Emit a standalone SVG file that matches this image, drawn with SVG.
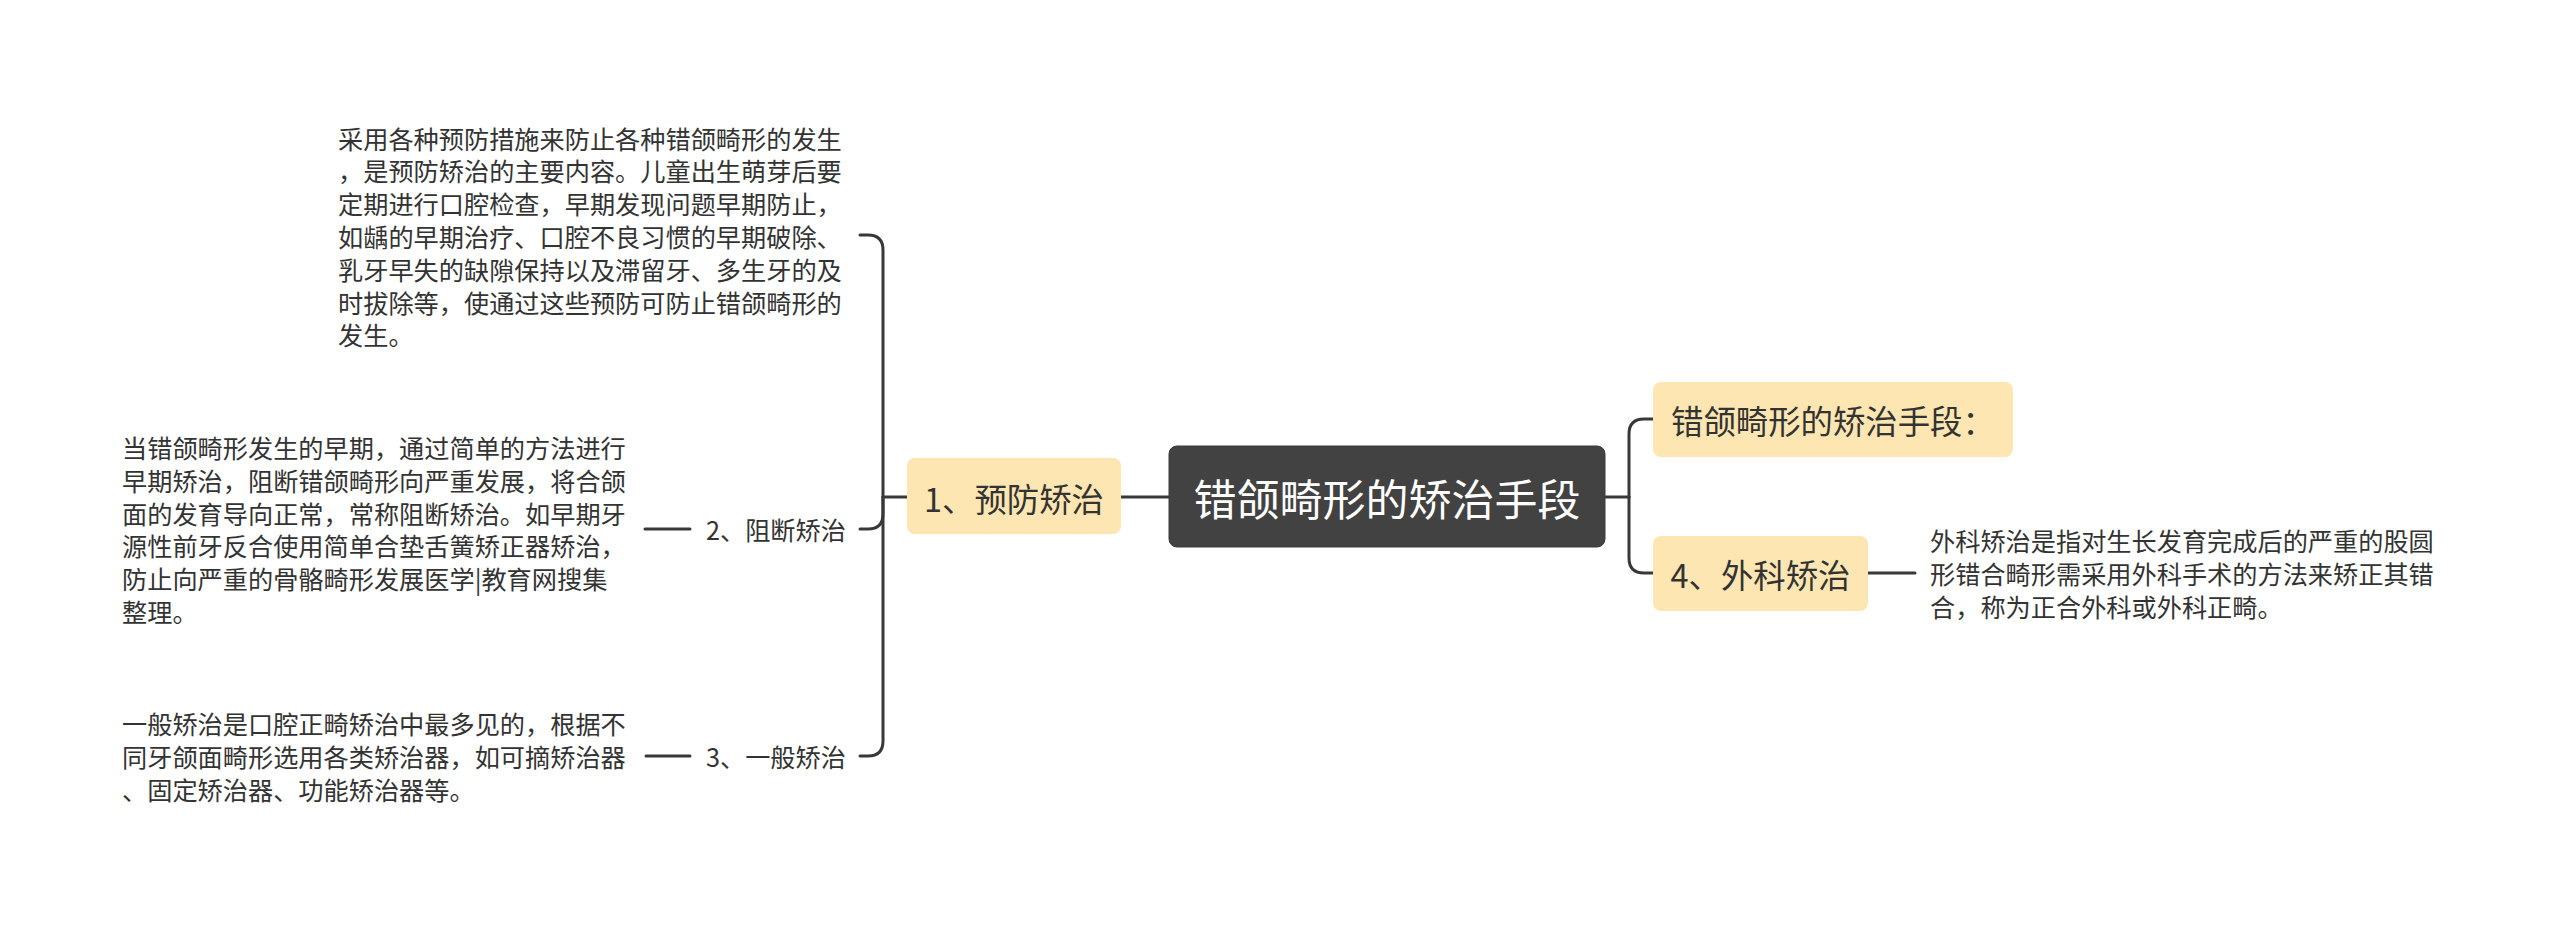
<svg xmlns="http://www.w3.org/2000/svg" width="2560" height="928" viewBox="0 0 2560 928">
<style>
  .bg { fill: #ffffff; }
  .conn { fill: none; stroke: #383838; stroke-width: 3; stroke-linecap: round; }
  .topic { fill: #fde6b1; }
  .root { fill: #424242; stroke: #3a3a3a; stroke-width: 1; }
  .t { font-family: "Noto Sans CJK SC", "Liberation Sans", sans-serif; fill: #333333; dominant-baseline: central; }
  .tRoot { font-size: 43px; fill: #ffffff; text-anchor: middle; }
  .tTopic { font-size: 32.4px; }
  .tSmall { font-size: 25.2px; }
</style>
<rect class="bg" x="0" y="0" width="2560" height="928"/>

<g id="connectors">
  <path class="conn" d="M1169,497 H1121"/>
  <path class="conn" d="M907,497 H883"/>
  <path class="conn" d="M883,497 V250 Q883,235 868,235 H860"/>
  <path class="conn" d="M883,497 V514 Q883,529 868,529 H860"/>
  <path class="conn" d="M883,497 V741 Q883,756 868,756 H860"/>
  <path class="conn" d="M690,529 H645"/>
  <path class="conn" d="M690,756 H646"/>
  <path class="conn" d="M1605,497 H1629"/>
  <path class="conn" d="M1629,497 V434 Q1629,419 1644,419 H1653"/>
  <path class="conn" d="M1629,497 V558 Q1629,573 1644,573 H1653"/>
  <path class="conn" d="M1868,573 H1915"/>
</g>

<g id="root">
  <rect class="root" x="1169" y="446" width="436" height="101" rx="8"/>
  <text class="t tRoot" x="1387" y="497">错颌畸形的矫治手段</text>
</g>

<g id="node-1">
  <rect class="topic" x="907" y="458" width="214" height="76" rx="8"/>
  <text class="t tTopic" x="1014" y="497" text-anchor="middle">1、预防矫治</text>
</g>

<g id="node-1-text">
  <text class="t tSmall" x="338" y="137.6">
    <tspan x="338" y="137.6">采用各种预防措施来防止各种错颌畸形的发生</tspan>
    <tspan x="338" y="170.4">，是预防矫治的主要内容。儿童出生萌芽后要</tspan>
    <tspan x="338" y="203.2">定期进行口腔检查，早期发现问题早期防止，</tspan>
    <tspan x="338" y="236">如龋的早期治疗、口腔不良习惯的早期破除、</tspan>
    <tspan x="338" y="268.8">乳牙早失的缺隙保持以及滞留牙、多生牙的及</tspan>
    <tspan x="338" y="301.6">时拔除等，使通过这些预防可防止错颌畸形的</tspan>
    <tspan x="338" y="334.4">发生。</tspan>
  </text>
</g>

<g id="node-2">
  <text class="t tSmall" x="706" y="529">2、阻断矫治</text>
</g>

<g id="node-2-text">
  <text class="t tSmall" x="122" y="447">
    <tspan x="122" y="447">当错颌畸形发生的早期，通过简单的方法进行</tspan>
    <tspan x="122" y="479.8">早期矫治，阻断错颌畸形向严重发展，将合颌</tspan>
    <tspan x="122" y="512.6">面的发育导向正常，常称阻断矫治。如早期牙</tspan>
    <tspan x="122" y="545.4">源性前牙反合使用简单合垫舌簧矫正器矫治，</tspan>
    <tspan x="122" y="578.2">防止向严重的骨骼畸形发展医学|教育网搜集</tspan>
    <tspan x="122" y="611">整理。</tspan>
  </text>
</g>

<g id="node-3">
  <text class="t tSmall" x="706" y="756">3、一般矫治</text>
</g>

<g id="node-3-text">
  <text class="t tSmall" x="122" y="723.2">
    <tspan x="122" y="723.2">一般矫治是口腔正畸矫治中最多见的，根据不</tspan>
    <tspan x="122" y="756">同牙颌面畸形选用各类矫治器，如可摘矫治器</tspan>
    <tspan x="122" y="788.8">、固定矫治器、功能矫治器等。</tspan>
  </text>
</g>

<g id="node-r1">
  <rect class="topic" x="1653" y="382" width="360" height="75" rx="8"/>
  <text class="t tTopic" x="1671" y="419">错颌畸形的矫治手段：</text>
</g>

<g id="node-r2">
  <rect class="topic" x="1653" y="536" width="215" height="75" rx="8"/>
  <text class="t tTopic" x="1760.5" y="573" text-anchor="middle">4、外科矫治</text>
</g>

<g id="node-r2-text">
  <text class="t tSmall" x="1930" y="540.2">
    <tspan x="1930" y="540.2">外科矫治是指对生长发育完成后的严重的股圆</tspan>
    <tspan x="1930" y="573">形错合畸形需采用外科手术的方法来矫正其错</tspan>
    <tspan x="1930" y="605.8">合，称为正合外科或外科正畸。</tspan>
  </text>
</g>
</svg>
